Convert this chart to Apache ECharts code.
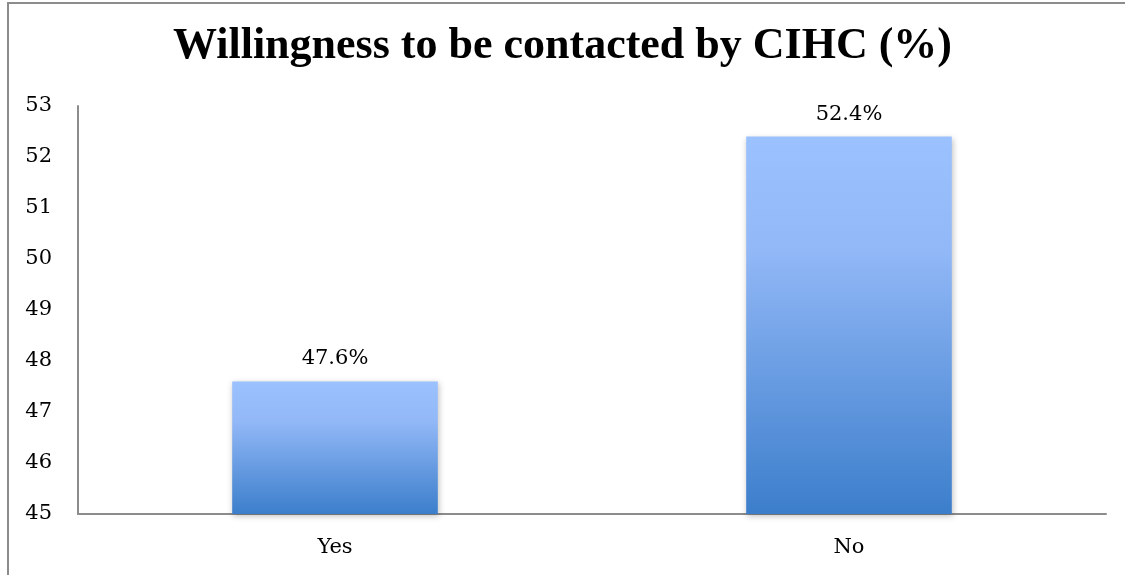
<!DOCTYPE html>
<html>
<head>
<meta charset="utf-8">
<script src="https://cdn.jsdelivr.net/npm/echarts@6/dist/echarts.min.js"></script>
<style>
  html, body { margin: 0; padding: 0; background: #fff; }
  #container { width: 1125px; height: 575px; }
</style>
</head>
<body>
<div id="container"></div>
<script>
var categories = ['Yes', 'No'];
var values = [47.6, 52.4];
var yMin = 45, yMax = 53;

var myChart = echarts.init(document.getElementById('container'));
var titleFont = '"Liberation Serif", serif';
var font = '"DejaVu Serif", "Liberation Serif", serif';

var option = {
    backgroundColor: '#fff',
    animation: false,
    title: {
        text: 'Willingness to be contacted by CIHC (%)',
        left: 'center',
        top: 20,
        textStyle: { fontFamily: titleFont, fontWeight: 'bold', fontSize: 44, color: '#000' }
    },
    // frame of the chart area (only left and top edges visible)
    graphic: [{
        type: 'polyline',
        shape: { points: [[8, 575], [8, 3], [1125, 3]] },
        style: { stroke: '#8c8c8c', lineWidth: 2, fill: null }
    }],
    grid: { left: 78, right: 19, top: 106, bottom: 61 },
    xAxis: {
        type: 'category',
        data: categories,
        axisLine: { lineStyle: { color: '#8c8c8c', width: 2 } },
        axisTick: { show: false },
        axisLabel: { fontFamily: font, fontSize: 21, color: '#000', margin: 23 }
    },
    yAxis: {
        type: 'value',
        min: yMin,
        max: yMax,
        interval: 1,
        splitLine: { show: false },
        axisLine: { show: true, lineStyle: { color: '#8c8c8c', width: 2 } },
        axisTick: { show: false },
        axisLabel: { fontFamily: font, fontSize: 21, color: '#000', margin: 26 }
    },
    series: [{
        type: 'bar',
        data: values,
        barWidth: '40%',
        itemStyle: {
            color: new echarts.graphic.LinearGradient(0, 0, 0, 1, [
                { offset: 0, color: '#9bc1fe' },
                { offset: 0.3, color: '#92b8f7' },
                { offset: 1, color: '#3c7ecb' }
            ]),
            shadowColor: 'rgba(0,0,0,0.25)',
            shadowBlur: 6,
            shadowOffsetX: 1,
            shadowOffsetY: 2
        },
        label: {
            show: true,
            position: 'top',
            distance: 12,
            formatter: function (p) { return p.value.toFixed(1) + '%'; },
            fontFamily: font,
            fontSize: 21,
            color: '#000'
        }
    }]
};

myChart.setOption(option);
</script>
</body>
</html>
